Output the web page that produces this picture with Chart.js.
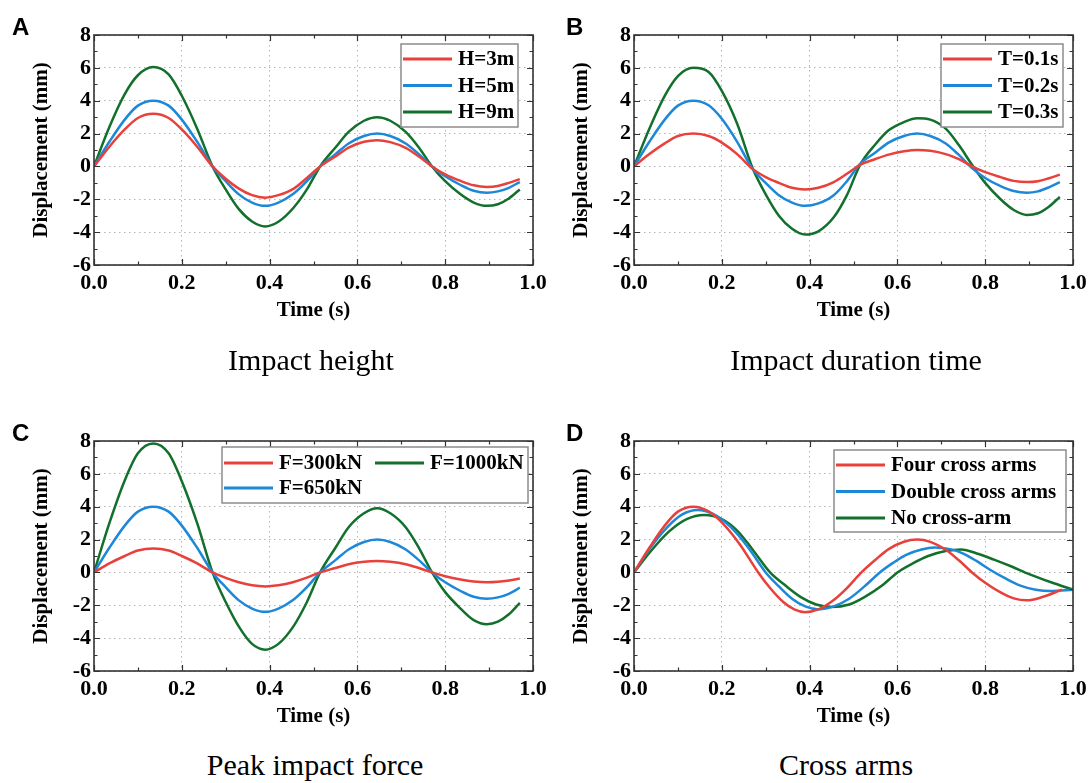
<!DOCTYPE html>
<html>
<head>
<meta charset="utf-8">
<script src="https://cdn.jsdelivr.net/npm/chart.js@4.4.1/dist/chart.umd.min.js"></script>
<style>
  html, body { margin: 0; padding: 0; background: #fff; }
  body { width: 1092px; height: 783px; position: relative; overflow: hidden; }
  .panel { position: absolute; width: 546px; height: 330px; }
  .letter { position: absolute; font: bold 24px "Liberation Sans", Arial, sans-serif; line-height: 24px; color: #000; }
  .caption { position: absolute; width: 546px; text-align: center; font: 30px "Liberation Serif", "Times New Roman", serif; line-height: 30px; color: #000; }
</style>
</head>
<body>
<div class="panel" style="left:0;top:0"><canvas id="chartA" width="546" height="330"></canvas></div>
<div class="panel" style="left:546px;top:0"><canvas id="chartB" width="546" height="330"></canvas></div>
<div class="panel" style="left:0;top:406px"><canvas id="chartC" width="546" height="330"></canvas></div>
<div class="panel" style="left:546px;top:406px"><canvas id="chartD" width="546" height="330"></canvas></div>

<div class="letter" style="left:12px;top:15px">A</div>
<div class="letter" style="left:566px;top:15px">B</div>
<div class="letter" style="left:12px;top:421px">C</div>
<div class="letter" style="left:566px;top:421px">D</div>

<div class="caption" style="left:38px;top:345px">Impact height</div>
<div class="caption" style="left:583px;top:345px">Impact duration time</div>
<div class="caption" style="left:42px;top:750px">Peak impact force</div>
<div class="caption" style="left:573px;top:750px">Cross arms</div>

<script>
// time samples (s) shared by panels A-C
const time = [0, 0.035, 0.07, 0.1, 0.135, 0.17, 0.2, 0.235, 0.27, 0.3, 0.33, 0.36, 0.39, 0.42, 0.455, 0.485,
              0.515, 0.55, 0.58, 0.615, 0.645, 0.675, 0.71, 0.74, 0.77, 0.8, 0.835, 0.865, 0.895, 0.92, 0.945, 0.97];

// A - impact height
const labelsA = ['H=3m', 'H=5m', 'H=9m'];
const h3 = [0, 1.2, 2.25, 2.95, 3.2, 2.95, 2.25, 1.2, 0, -0.75, -1.35, -1.75, -1.9, -1.75, -1.35, -0.7,
            0, 0.6, 1.15, 1.5, 1.6, 1.48, 1.13, 0.6, 0, -0.48, -0.88, -1.15, -1.25, -1.19, -1.0, -0.77];
const h5 = [0, 1.5, 2.85, 3.7, 4.0, 3.7, 2.85, 1.5, 0, -0.9, -1.7, -2.2, -2.4, -2.2, -1.65, -0.9,
            0, 0.75, 1.4, 1.85, 2.0, 1.85, 1.4, 0.75, 0, -0.6, -1.13, -1.48, -1.6, -1.52, -1.3, -0.95];
const h9 = [0, 2.4, 4.4, 5.55, 6.05, 5.6, 4.3, 2.3, 0, -1.4, -2.6, -3.35, -3.65, -3.37, -2.5, -1.4,
            0, 1.15, 2.1, 2.78, 3.0, 2.78, 2.1, 1.15, 0, -0.9, -1.7, -2.2, -2.4, -2.3, -1.95, -1.4];

// B - impact duration
const labelsB = ['T=0.1s', 'T=0.2s', 'T=0.3s'];
const t01 = [0, 0.75, 1.4, 1.85, 2.0, 1.85, 1.45, 0.75, -0.15, -0.65, -1.0, -1.3, -1.4, -1.3, -0.95, -0.45,
             0.1, 0.45, 0.72, 0.92, 1.0, 0.95, 0.75, 0.45, 0.0, -0.35, -0.65, -0.88, -0.95, -0.9, -0.72, -0.5];
const t02 = [0, 1.5, 2.85, 3.7, 4.0, 3.72, 2.9, 1.5, -0.15, -1.0, -1.75, -2.2, -2.4, -2.25, -1.75, -0.9,
             0.15, 0.85, 1.45, 1.85, 2.0, 1.85, 1.4, 0.7, -0.1, -0.7, -1.2, -1.5, -1.6, -1.52, -1.27, -0.95];
const t03 = [0, 2.3, 4.3, 5.5, 6.0, 5.75, 4.6, 2.6, -0.1, -1.7, -3.0, -3.8, -4.15, -3.95, -3.1, -1.75,
             0.1, 1.35, 2.2, 2.7, 2.93, 2.85, 2.3, 1.3, 0.1, -1.0, -2.0, -2.65, -2.95, -2.85, -2.45, -1.85];

// C - peak impact force
const labelsC = ['F=300kN', 'F=650kN', 'F=1000kN'];
const f300 = [0, 0.55, 1.0, 1.33, 1.45, 1.33, 1.0, 0.55, 0, -0.33, -0.6, -0.78, -0.85, -0.78, -0.58, -0.32,
              0, 0.27, 0.5, 0.65, 0.7, 0.65, 0.5, 0.27, 0, -0.23, -0.43, -0.55, -0.6, -0.57, -0.49, -0.37];
const f650 = [0, 1.5, 2.85, 3.7, 4.0, 3.7, 2.85, 1.5, 0, -0.9, -1.7, -2.2, -2.4, -2.2, -1.65, -0.9,
              0, 0.75, 1.4, 1.85, 2.0, 1.85, 1.4, 0.75, 0, -0.6, -1.13, -1.48, -1.6, -1.52, -1.3, -0.93];
const f1000 = [0, 3.0, 5.6, 7.25, 7.85, 7.25, 5.55, 3.0, 0, -1.8, -3.3, -4.35, -4.7, -4.35, -3.25, -1.8,
               0, 1.5, 2.75, 3.6, 3.9, 3.6, 2.75, 1.5, 0, -1.2, -2.2, -2.9, -3.15, -3.0, -2.55, -1.85];

// D - cross arms (each series has its own time samples)
const labelsD = ['Four cross arms', 'Double cross arms', 'No cross-arm'];
const timeFour = [0, 0.035, 0.07, 0.1, 0.135, 0.17, 0.2, 0.24, 0.283, 0.31, 0.34, 0.365, 0.39, 0.42, 0.455, 0.485,
                  0.518, 0.55, 0.58, 0.615, 0.645, 0.675, 0.71, 0.74, 0.77, 0.8, 0.835, 0.865, 0.895, 0.93, 0.975];
const four = [0, 1.5, 2.85, 3.7, 4.0, 3.72, 3.05, 1.75, 0, -0.95, -1.8, -2.25, -2.42, -2.25, -1.68, -0.95,
              0, 0.77, 1.42, 1.87, 2.0, 1.86, 1.38, 0.74, 0, -0.63, -1.22, -1.58, -1.7, -1.5, -1.05];
const timeDouble = [0, 0.035, 0.075, 0.11, 0.145, 0.18, 0.22, 0.26, 0.3, 0.33, 0.36, 0.39, 0.42, 0.455, 0.49,
                    0.525, 0.56, 0.59, 0.62, 0.655, 0.685, 0.72, 0.75, 0.78, 0.81, 0.845, 0.88, 0.915, 0.95, 1.0];
const double = [0, 1.42, 2.73, 3.53, 3.8, 3.56, 2.77, 1.52, 0, -0.85, -1.6, -2.07, -2.25, -2.07, -1.6,
                -0.85, 0, 0.58, 1.07, 1.4, 1.52, 1.42, 1.15, 0.7, 0.18, -0.35, -0.8, -1.05, -1.13, -1.05];
const timeNone = [0, 0.04, 0.08, 0.12, 0.16, 0.2, 0.235, 0.27, 0.31, 0.345, 0.38, 0.415, 0.45, 0.49,
                  0.525, 0.565, 0.6, 0.635, 0.67, 0.71, 0.745, 0.785, 0.82, 0.86, 0.9, 0.95, 1.0];
const none = [0, 1.35, 2.5, 3.25, 3.5, 3.25, 2.55, 1.4, 0, -0.8, -1.5, -1.95, -2.1, -1.95,
              -1.5, -0.8, 0, 0.55, 1.0, 1.3, 1.4, 1.12, 0.78, 0.36, -0.1, -0.6, -1.05];

// axis ticks
const xMin = 0, xMax = 1, xStep = 0.2;
const yMin = -6, yMax = 8, yStep = 2;

const colors = ['#e8413b', '#1e88d8', '#13702c'];
const serif = '"Liberation Serif", "Times New Roman", serif';

function pts(xs, ys) {
    return ys.map((v, i) => ({ x: xs[i], y: v }));
}

// inward ticks on all four sides + frame
const frameTicks = {
    id: 'frameTicks',
    afterDatasetsDraw(chart) {
        const { ctx, chartArea: a, scales: { x, y } } = chart;
        ctx.save();
        ctx.strokeStyle = '#333';
        ctx.lineWidth = 1.2;
        ctx.beginPath();
        const xMinor = xStep / 2, yMinor = yStep / 2;
        for (let i = 0; i <= Math.round((xMax - xMin) / xMinor); i++) {
            const px = Math.round(x.getPixelForValue(xMin + i * xMinor)) + 0.5;
            const len = i % 2 === 0 ? 6 : 3.5;
            ctx.moveTo(px, a.bottom); ctx.lineTo(px, a.bottom - len);
            ctx.moveTo(px, a.top); ctx.lineTo(px, a.top + len);
        }
        for (let i = 0; i <= Math.round((yMax - yMin) / yMinor); i++) {
            const py = Math.round(y.getPixelForValue(yMin + i * yMinor)) + 0.5;
            const len = i % 2 === 0 ? 6 : 3.5;
            ctx.moveTo(a.left, py); ctx.lineTo(a.left + len, py);
            ctx.moveTo(a.right, py); ctx.lineTo(a.right - len, py);
        }
        ctx.stroke();
        ctx.lineWidth = 1.6;
        ctx.strokeRect(a.left, a.top, a.right - a.left, a.bottom - a.top);
        ctx.restore();
    }
};

// boxed legend like the original figure
const boxLegend = {
    id: 'boxLegend',
    afterDraw(chart, args, o) {
        const { ctx } = chart;
        ctx.save();
        ctx.fillStyle = '#fff';
        ctx.fillRect(o.x, o.y, o.w, o.h);
        ctx.strokeStyle = '#8c8c8c';
        ctx.lineWidth = 1.5;
        ctx.strokeRect(o.x, o.y, o.w, o.h);
        ctx.font = 'bold 21px ' + serif;
        ctx.textBaseline = 'middle';
        ctx.textAlign = 'left';
        chart.data.datasets.forEach((ds, k) => {
            const col = Math.floor(k / o.rows), row = k % o.rows;
            const lx = o.x + 2 + col * o.colW;
            const ly = o.y + o.firstRow + row * o.rowH;
            ctx.strokeStyle = ds.borderColor;
            ctx.lineWidth = 3;
            ctx.beginPath();
            ctx.moveTo(lx, ly); ctx.lineTo(lx + 49, ly);
            ctx.stroke();
            ctx.fillStyle = '#000';
            ctx.fillText(ds.label, lx + 55, ly + 1);
        });
        ctx.restore();
    }
};

function makeChart(id, series, labels, layout, legend) {
    const datasets = series.map((s, i) => ({
        label: labels[i],
        data: s,
        borderColor: colors[i],
        backgroundColor: colors[i],
        borderWidth: 2.5,
        pointRadius: 0,
        fill: false,
        cubicInterpolationMode: 'monotone'
    }));
    const tickFont = { family: serif, size: 22, weight: 'bold' };
    return new Chart(document.getElementById(id), {
        type: 'line',
        data: { datasets },
        options: {
            responsive: false,
            animation: false,
            events: [],
            layout: { padding: { left: 0, right: layout.right, top: layout.top, bottom: 0 } },
            plugins: {
                legend: { display: false },
                tooltip: { enabled: false },
                boxLegend: legend
            },
            scales: {
                x: {
                    type: 'linear',
                    min: xMin, max: xMax,
                    afterFit(scale) { scale.height = 65; scale.paddingLeft = 0; scale.paddingRight = 0; },
                    ticks: { stepSize: xStep, padding: 5, color: '#000', font: tickFont, maxRotation: 0,
                             callback: v => v.toFixed(1) },
                    grid: { color: '#b4b4b4', lineWidth: 1, drawTicks: false },
                    border: { display: false, dash: [1.5, 3.5] },
                    title: { display: true, text: 'Time (s)', color: '#000',
                             font: { family: serif, size: 21, weight: 'bold', lineHeight: 1 },
                             padding: { top: 0, bottom: 9 } }
                },
                y: {
                    min: yMin, max: yMax,
                    afterFit(scale) { scale.width = layout.yw; scale.paddingTop = 0; scale.paddingBottom = 0; },
                    ticks: { stepSize: yStep, padding: 3, color: '#000', font: tickFont },
                    grid: { color: '#b4b4b4', lineWidth: 1, drawTicks: false },
                    border: { display: false, dash: [1.5, 3.5] },
                    title: { display: true, text: 'Displacement (mm)', color: '#000',
                             font: { family: serif, size: 21, weight: 'bold', lineHeight: 1 },
                             padding: { top: layout.yTitle, bottom: 0 } }
                }
            }
        },
        plugins: [frameTicks, boxLegend]
    });
}

makeChart('chartA', [pts(time, h3), pts(time, h5), pts(time, h9)], labelsA,
    { yw: 94, right: 13, top: 35, yTitle: 31 },
    { x: 401, y: 44, w: 117, h: 83, rows: 3, colW: 0, firstRow: 15, rowH: 26.5 });

makeChart('chartB', [pts(time, t01), pts(time, t02), pts(time, t03)], labelsB,
    { yw: 88, right: 19, top: 35, yTitle: 25 },
    { x: 395, y: 44, w: 122, h: 83, rows: 3, colW: 0, firstRow: 15, rowH: 26.5 });

makeChart('chartC', [pts(time, f300), pts(time, f650), pts(time, f1000)], labelsC,
    { yw: 94, right: 13, top: 35, yTitle: 31 },
    { x: 222, y: 41, w: 306, h: 56, rows: 2, colW: 151, firstRow: 16, rowH: 25 });

makeChart('chartD', [pts(timeFour, four), pts(timeDouble, double), pts(timeNone, none)], labelsD,
    { yw: 88, right: 19, top: 35, yTitle: 25 },
    { x: 288, y: 44, w: 232, h: 82, rows: 3, colW: 0, firstRow: 15, rowH: 26.5 });
</script>
</body>
</html>
